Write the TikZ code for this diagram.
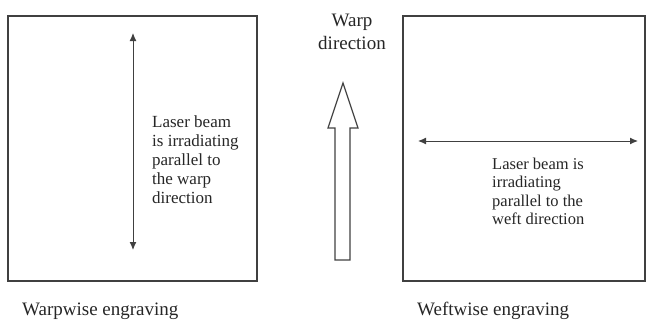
\documentclass[tikz,border=0pt]{standalone}
\usepackage{fontspec}
\setmainfont{Liberation Serif}
\usetikzlibrary{arrows.meta, positioning}

\begin{document}
\begin{tikzpicture}[x=1pt, y=-1pt,
    panel/.style={draw=black!75, line width=1.2pt, inner sep=0pt},
    beam/.style={{Latex[length=8pt,width=7pt]}-{Latex[length=8pt,width=7pt]}, line width=1pt, black!75},
    note/.style={anchor=north west, align=left, inner sep=0pt, text=black!85},
    caption/.style={anchor=base west, inner sep=0pt, text=black!85, font=\fontsize{19}{23}\selectfont}
]
\useasboundingbox (0,0) rectangle (646,324);

% panels
\node[panel, minimum width=249pt, minimum height=265pt] (warpbox) at (132.5,148.5) {};
\node[panel, minimum width=242pt, minimum height=265pt] (weftbox) at (524,148.5) {};

% beams
\coordinate (warptop) at (133,33);
\coordinate (warpbot) at (133,250);
\draw[beam] (warptop) -- (warpbot);

\coordinate (weftleft) at (418,141);
\coordinate (weftright) at (638,141);
\draw[beam] (weftleft) -- (weftright);

% texts
\node[note, font=\fontsize{17}{19}\selectfont] (warptext) at (152,116)
    {Laser beam\\is irradiating\\parallel to\\the warp\\direction};
\node[note, font=\fontsize{16.5}{18.5}\selectfont] (wefttext) at (492,157.5)
    {Laser beam is\\irradiating\\parallel to the\\weft direction};

\node[anchor=north, align=center, inner sep=0pt, text=black!85,
      font=\fontsize{19}{23}\selectfont] (warpdir) at (352,14) {Warp\\direction};

% block arrow
\draw[black!75, line width=1.2pt, line join=miter]
    (335,260) -- (335,128) -- (328,128) -- (343,83) -- (358,128)
    -- (350,128) -- (350,260) -- cycle;

\node[caption] (warpcap) at (22,315) {Warpwise engraving};
\node[caption] (weftcap) at (417,315) {Weftwise engraving};

\end{tikzpicture}
\end{document}
